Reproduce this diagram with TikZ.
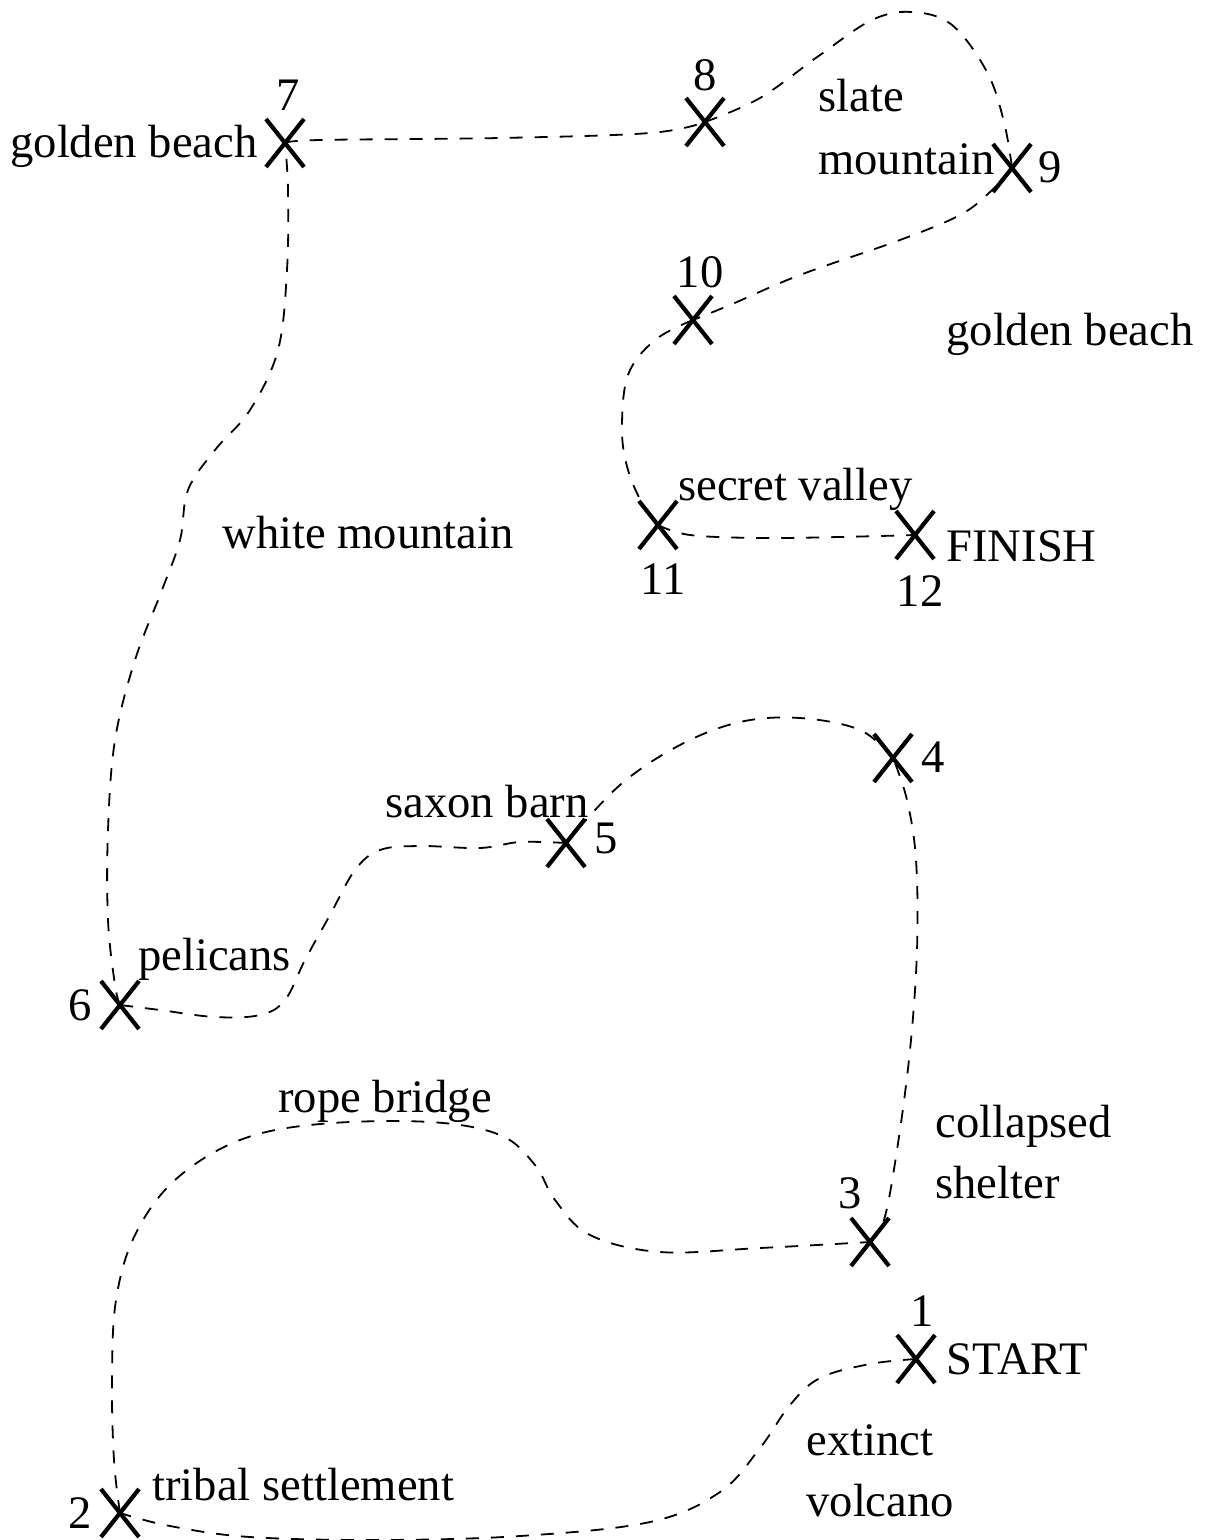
\documentclass[tikz,border=0pt]{standalone}
\usepackage{fontspec}
\setmainfont{Liberation Serif}
\usetikzlibrary{shapes.misc}
\begin{document}
\begin{tikzpicture}[x=0.5pt,y=-0.5pt,
  xmark/.style={cross out, draw, line width=2.1pt, minimum width=19pt, minimum height=24pt, inner sep=0pt, outer sep=0pt},
  route/.style={line width=0.9pt, dash pattern=on 6.5pt off 6pt},
  lbl/.style={font=\fontsize{23.3pt}{28pt}\selectfont, inner sep=0pt, anchor=base west},
  num/.style={font=\fontsize{23.3pt}{28pt}\selectfont, inner sep=0pt, anchor=base}]
\useasboundingbox (0,0) rectangle (1212,1540);
% crosses
\node[xmark] (n1) at (916,1359) {};
\node[xmark] (n2) at (120,1513) {};
\node[xmark] (n3) at (870,1242) {};
\node[xmark] (n4) at (893,758) {};
\node[xmark] (n5) at (566,843) {};
\node[xmark] (n6) at (120,1005) {};
\node[xmark] (n7) at (285,143) {};
\node[xmark] (n8) at (705,122) {};
\node[xmark] (n9) at (1012,168) {};
\node[xmark] (n10) at (693,320) {};
\node[xmark] (n11) at (658,525) {};
\node[xmark] (n12) at (915,535) {};
% numbers
\node[num] (t1) at (922,1326) {1};
\node[num] (t2) at (80,1528) {2};
\node[num] (t3) at (850,1208) {3};
\node[num] (t4) at (933,772) {4};
\node[num] (t5) at (606,853) {5};
\node[num] (t6) at (80,1020) {6};
\node[num] (t7) at (288,111) {7};
\node[num] (t8) at (705,91) {8};
\node[num] (t9) at (1050,183) {9};
\node[num] (t10) at (700,288) {10};
\node[num] (t11) at (663,594) {11};
\node[num] (t12) at (920,606) {12};
% labels
\node[lbl] (l7) at (10,158) {golden beach};
\node[lbl] (l8a) at (818,112) {slate};
\node[lbl] (l8b) at (818,175) {mountain};
\node[lbl] (l10) at (946,345) {golden beach};
\node[lbl] (l11) at (678,500) {secret valley};
\node[lbl] (lw) at (222,548) {white mountain};
\node[lbl] (l12) at (946,561) {FINISH};
\node[lbl] (l5) at (385,817) {saxon barn};
\node[lbl] (l6) at (138,970) {pelicans};
\node[lbl] (lr) at (278,1112) {rope bridge};
\node[lbl] (l3a) at (935,1137) {collapsed};
\node[lbl] (l3b) at (935,1198) {shelter};
\node[lbl] (l1) at (946,1374) {START};
\node[lbl] (lva) at (806,1455) {extinct};
\node[lbl] (lvb) at (806,1516) {volcano};
\node[lbl] (l2) at (152,1500) {tribal settlement};
% routes
\draw[route] plot[smooth, tension=0.6] coordinates {(n1.center) (870,1364) (820,1378) (790,1405) (760,1448) (720,1492) (650,1522) (520,1536) (380,1540) (250,1537) (170,1526) (n2.center)};
\draw[route] plot[smooth, tension=0.6] coordinates {(n2.center) (114,1460) (112,1380) (116,1300) (135,1235) (175,1180) (240,1140) (320,1124) (430,1122) (500,1135) (535,1165) (555,1200) (590,1235) (660,1252) (760,1248) (n3.center)};
\draw[route] plot[smooth, tension=0.6] coordinates {(n3.center) (884,1220) (897,1150) (910,1050) (917,950) (916,860) (907,800) (n4.center)};
\draw[route] plot[smooth, tension=0.6] coordinates {(n4.center) (860,730) (800,718) (740,722) (680,745) (620,785) (n5.center)};
\draw[route] plot[smooth, tension=0.6] coordinates {(n5.center) (520,842) (480,848) (420,846) (380,850) (355,870) (330,915) (305,960) (285,1000) (260,1015) (215,1017) (160,1010) (n6.center)};
\draw[route] plot[smooth, tension=0.6] coordinates {(n6.center) (115,985) (108,920) (108,830) (115,740) (135,660) (162,590) (180,540) (188,490) (215,450) (250,410) (278,350) (287,270) (288,190) (n7.center)};
\draw[route] plot[smooth, tension=0.6] coordinates {(n7.center) (320,140) (500,138) (650,133) (n8.center)};
\draw[route] plot[smooth, tension=0.6] coordinates {(n8.center) (760,98) (820,55) (872,20) (912,12) (952,25) (987,72) (1004,122) (n9.center)};
\draw[route] plot[smooth, tension=0.6] coordinates {(n9.center) (990,192) (960,215) (900,240) (800,275) (730,305) (n10.center)};
\draw[route] plot[smooth, tension=0.6] coordinates {(n10.center) (655,340) (628,375) (622,430) (628,470) (643,505) (n11.center)};
\draw[route] plot[smooth, tension=0.6] coordinates {(n11.center) (690,535) (760,538) (840,537) (n12.center)};
\end{tikzpicture}
\end{document}
